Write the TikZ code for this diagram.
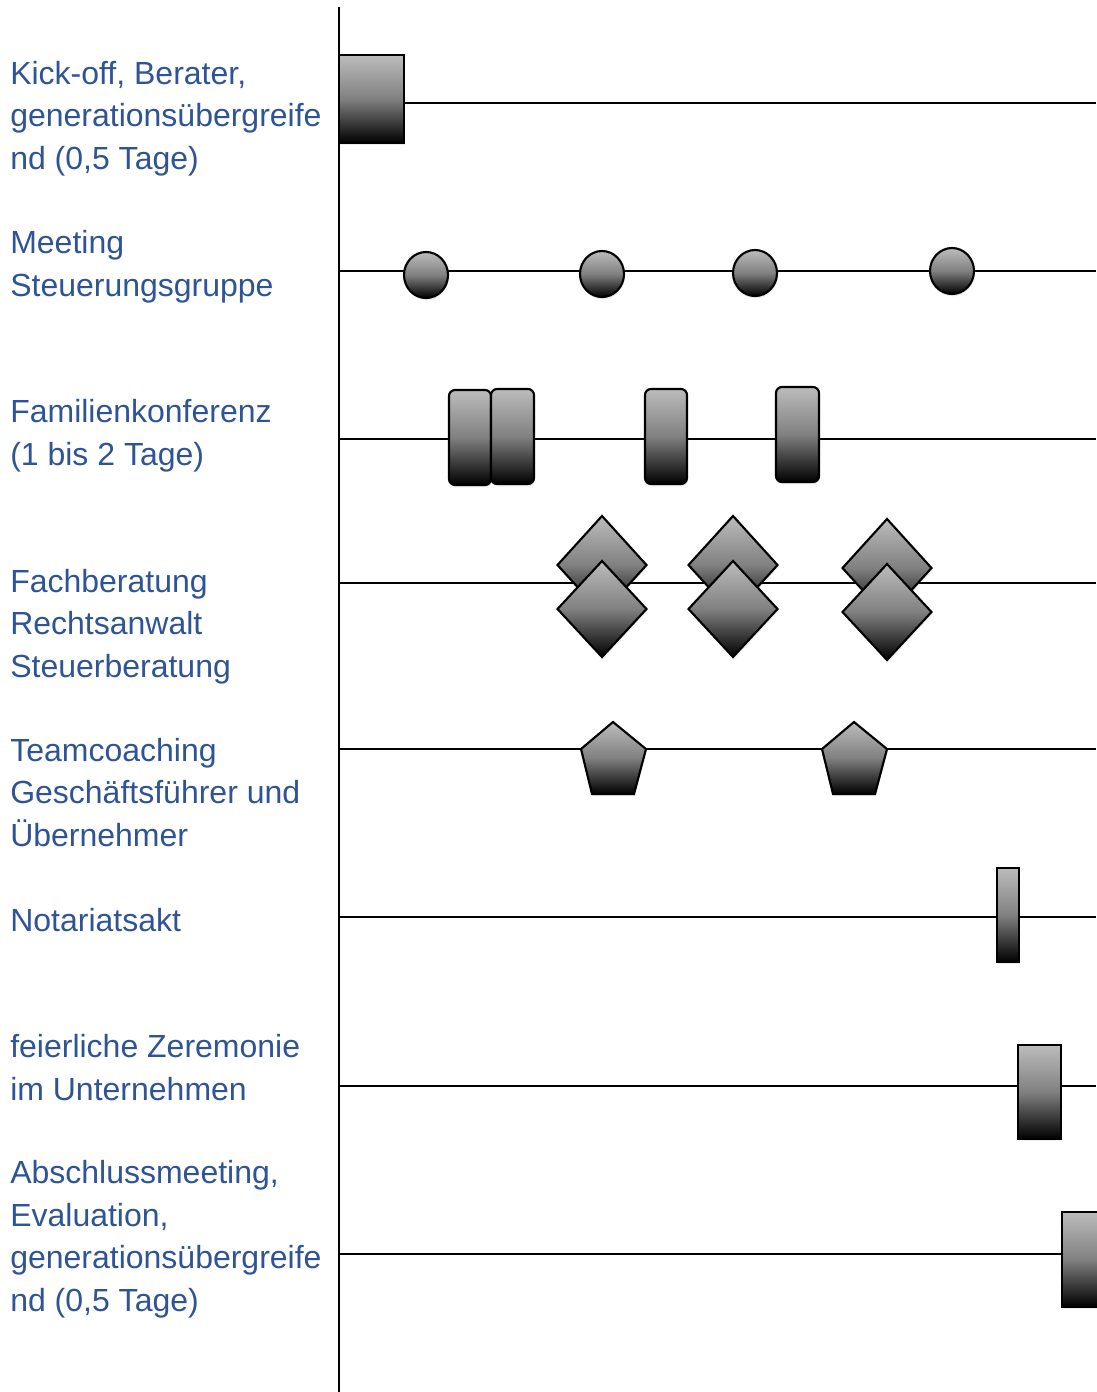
\documentclass[tikz,border=0pt]{standalone}
\usepackage{fontspec}
\setmainfont{Liberation Sans}
\usetikzlibrary{shadows}
\definecolor{lblue}{RGB}{47,84,150}
\definecolor{shtop}{RGB}{188,188,188}
\definecolor{shmid}{RGB}{128,128,128}
\begin{document}
\begin{tikzpicture}[x=0.75pt,y=-0.75pt,
  lbl/.style={anchor=base west, align=left, text=lblue, font=\fontsize{24}{31.8}\selectfont, inner sep=0pt},
  track/.style={line width=1.9pt},
  grad/.style={draw=black, line width=1.6pt, top color=shtop, bottom color=black, middle color=shmid,
    drop shadow={shadow xshift=0.6pt, shadow yshift=-1.8pt, opacity=0.15}},
]
\useasboundingbox (0,0) rectangle (1096,1392);

% labels (anchored at the baseline of their last line)
\node[lbl] (l1) at (10,169) {Kick-off, Berater,\\generationsübergreife\\nd (0,5 Tage)};
\node[lbl] (l2) at (10,296) {Meeting\\Steuerungsgruppe};
\node[lbl] (l3) at (10,465) {Familienkonferenz\\(1 bis 2 Tage)};
\node[lbl] (l4) at (10,677) {Fachberatung\\Rechtsanwalt\\Steuerberatung};
\node[lbl] (l5) at (10,846) {Teamcoaching\\Geschäftsführer und\\Übernehmer};
\node[lbl] (l6) at (10,931) {Notariatsakt};
\node[lbl] (l7) at (10,1100) {feierliche Zeremonie\\im Unternehmen};
\node[lbl] (l8) at (10,1311) {Abschlussmeeting,\\Evaluation,\\generationsübergreife\\nd (0,5 Tage)};

% axis
\coordinate (axtop) at (339,7);
\coordinate (axbot) at (339,1392);
\draw[track] (axtop) -- (axbot);

% tracks
\foreach \i/\y in {1/103,2/271,3/439,4/583,5/749,6/917,7/1086,8/1254}{
  \coordinate (ts\i) at (339,\y);
  \coordinate (te\i) at (1096,\y);
  \draw[track] (ts\i) -- (te\i);
}

% 1 kick-off
\path[grad] (339,55) rectangle (404,143);

% 2 meetings
\foreach \x/\y in {426/275,602/274,755/273,952/271}{
  \path[grad] (\x,\y) ellipse [x radius=16.5pt, y radius=17.25pt];
}

% 3 Familienkonferenz
\path[grad, rounded corners=4.5pt] (449,390) rectangle (491,485);
\path[grad, rounded corners=4.5pt] (491,389) rectangle (534,484);
\path[grad, rounded corners=4.5pt] (645,389) rectangle (687,484);
\path[grad, rounded corners=4.5pt] (776,387) rectangle (819,482);

% 4 Fachberatung diamonds
\foreach \x/\ya/\yb in {602/565/609,733/565/609,887/568/612}{
  \path[grad] (\x,\ya-49) -- (\x+44.5,\ya) -- (\x,\ya+49) -- (\x-44.5,\ya) -- cycle;
  \path[grad] (\x,\yb-48) -- (\x+44.5,\yb) -- (\x,\yb+48) -- (\x-44.5,\yb) -- cycle;
}

% 5 Teamcoaching pentagons
\path[grad] (613,722) -- (646,749) -- (634,794) -- (592,794) -- (581,749) -- cycle;
\path[grad] (854,722) -- (887,749) -- (875,794) -- (833,794) -- (822,749) -- cycle;

% 6 Notariatsakt
\path[grad] (997,868) rectangle (1019,962);

% 7 Zeremonie
\path[grad] (1018,1045) rectangle (1061,1139);

% 8 Abschluss
\path[grad] (1062,1212) rectangle (1110,1307);
\end{tikzpicture}
\end{document}
